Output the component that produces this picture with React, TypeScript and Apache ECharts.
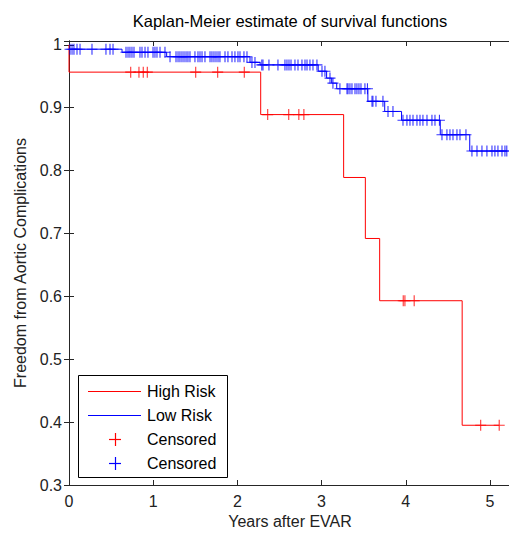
import React, { useEffect, useRef } from "react";
import * as echarts from "echarts";

// Kaplan-Meier step points: [time (years), survival after that time]
const highRiskSteps: [number, number][] = [
  [0, 1], [0, 0.9565], [2.277, 0.889], [3.262, 0.789], [3.52, 0.692],
  [3.69, 0.593], [4.67, 0.395], [5.11, 0.395],
];
const lowRiskSteps: [number, number][] = [
  [0, 0.993], [0.63, 0.988], [1.16, 0.981], [2.15, 0.972], [2.27, 0.968],
  [2.96, 0.958], [3.06, 0.947], [3.12, 0.939], [3.18, 0.93], [3.55, 0.91],
  [3.75, 0.894], [3.95, 0.88], [4.41, 0.857], [4.76, 0.831], [5.2, 0.831],
];
// Censoring times (years)
const highRiskCensored: number[] = [
  0.733, 0.831, 0.882, 0.93, 1.505, 1.766, 2.082, 2.36, 2.61, 2.73, 2.79,
  3.97, 3.99, 4.1, 4.89, 5.11,
];
const lowRiskCensored: number[] = [
  0.012, 0.036, 0.059, 0.095, 0.131, 0.273, 0.439, 0.487, 0.523,
  0.677, 0.701, 0.724, 0.748, 0.772, 0.843, 0.867, 0.903, 0.938, 0.998, 1.021, 1.045, 1.081, 1.14,
  1.2, 1.271, 1.295, 1.318, 1.342, 1.366, 1.39, 1.413, 1.437, 1.496, 1.532, 1.556, 1.58, 1.615,
  1.675, 1.698, 1.722, 1.746, 1.77, 1.793, 1.853, 1.888, 1.936, 1.971, 2.007, 2.031, 2.078, 2.114,
  2.173, 2.209,
  2.29, 2.304, 2.375, 2.482, 2.565, 2.589, 2.613, 2.637, 2.684, 2.72, 2.767, 2.803, 2.827, 2.862, 2.898, 2.945,
  3.005, 3.04, 3.1, 3.135,
  3.218, 3.302, 3.314, 3.337, 3.361, 3.397, 3.42, 3.444, 3.468, 3.515, 3.545,
  3.599, 3.61, 3.646, 3.729,
  3.789, 3.848,
  3.967, 4.014, 4.05, 4.086, 4.133, 4.169, 4.204, 4.252, 4.311, 4.347, 4.4,
  4.43, 4.489, 4.525, 4.561, 4.608, 4.644, 4.715,
  4.786, 4.846, 4.905, 4.964, 5.024, 5.059, 5.095, 5.143, 5.178, 5.2,
];
const seriesNames = ["High Risk", "Low Risk", "Censored", "Censored"];
const titleText = "Kaplan-Meier estimate of survival functions";
const xName = "Years after EVAR";
const yName = "Freedom from Aortic Complications";

const RED = "#ff0000";
const BLUE = "#0000ff";
const AXIS = "#262626";
const FONT = "'Liberation Sans', Arial, sans-serif";
const PLUS = "path://M4.5,0H5.5V4.5H10V5.5H5.5V10H4.5V5.5H0V4.5H4.5Z";

function survAt(steps: [number, number][], t: number): number {
  let s = steps[0][1];
  for (const [ti, si] of steps) {
    if (ti <= t + 1e-9) s = si;
  }
  return s;
}

export default function App() {
  const ref = useRef<HTMLDivElement>(null);
  useEffect(() => {
    if (!ref.current) return;
    const chart = echarts.init(ref.current, undefined, { renderer: "svg" });
    const axisCommon = {
      axisLine: { show: true, lineStyle: { color: AXIS, width: 1 } },
      axisTick: { show: true, inside: true, length: 5, lineStyle: { color: AXIS } },
      splitLine: { show: false },
    };
    const legendX = 78, legendY = 375, rowH = 24;
    const legendEls: any[] = [
      { type: "rect", id: "lg-box", z: 100, shape: { x: legendX + 0.5, y: legendY + 0.5, width: 149, height: 102 }, style: { fill: "#ffffff", stroke: "#000000", lineWidth: 1 } },
    ];
    const colors = [RED, BLUE, RED, BLUE];
    seriesNames.forEach((name, i) => {
      const cy = legendY + 16 + i * rowH;
      if (i < 2) {
        legendEls.push({ type: "polyline", id: `lg-l${i}`, z: 101, shape: { points: [[88, cy + 0.5], [141, cy + 0.5]] }, style: { stroke: colors[i], fill: null, lineWidth: 1.2 } });
      } else {
        legendEls.push({ type: "polyline", id: `lg-h${i}`, z: 101, shape: { points: [[109, cy + 0.5], [121, cy + 0.5]] }, style: { stroke: colors[i], fill: null, lineWidth: 1.2 } });
        legendEls.push({ type: "polyline", id: `lg-v${i}`, z: 101, shape: { points: [[115.5, cy - 6], [115.5, cy + 7]] }, style: { stroke: colors[i], fill: null, lineWidth: 1.2 } });
      }
      legendEls.push({ type: "text", id: `lg-t${i}`, z: 101, x: 147, y: cy, style: { text: name, fill: "#000", font: `16px ${FONT}`, textVerticalAlign: "middle", textAlign: "left" } });
    });

    chart.setOption({
      animation: false,
      backgroundColor: "#fff",
      grid: { left: 69, top: 41, width: 442, height: 444, containLabel: false, outerBoundsMode: "none" },
      xAxis: [
        {
          type: "value", min: 0, max: 5.25, interval: 1, position: "bottom",
          ...axisCommon,
          axisLabel: { color: "#222", fontSize: 16, fontFamily: FONT, margin: 8, showMaxLabel: false },
          name: xName, nameLocation: "middle", nameGap: 28,
          nameTextStyle: { color: "#222", fontSize: 16, fontFamily: FONT },
        },
        {
          type: "value", min: 0, max: 5.25, interval: 1, position: "top",
          ...axisCommon, axisLabel: { show: false },
        },
      ],
      yAxis: [
        {
          type: "value", min: 0.3, max: 1.006, interval: 0.1, position: "left",
          ...axisCommon,
          axisLabel: { color: "#222", fontSize: 16, fontFamily: FONT, margin: 7, showMaxLabel: false, formatter: (v: number) => String(Math.round(v * 10) / 10) },
          name: yName, nameLocation: "middle", nameGap: 41,
          nameTextStyle: { color: "#222", fontSize: 16, fontFamily: FONT },
        },
        {
          type: "value", min: 0.3, max: 1.006, interval: 0.1, position: "right",
          ...axisCommon, axisLabel: { show: false },
        },
      ],
      graphic: [
        { type: "text", id: "title", x: 290, y: 21, style: { text: titleText, fill: "#000", font: `16.5px ${FONT}`, textAlign: "center", textVerticalAlign: "middle" } },
        ...legendEls,
      ],
      series: [
        {
          name: seriesNames[0], type: "line", step: "end", data: highRiskSteps,
          showSymbol: false, lineStyle: { color: RED, width: 1 }, itemStyle: { color: RED }, z: 2,
        },
        {
          name: seriesNames[1], type: "line", step: "end", data: lowRiskSteps,
          showSymbol: false, lineStyle: { color: BLUE, width: 1 }, itemStyle: { color: BLUE }, z: 3,
        },
        {
          name: seriesNames[2], type: "scatter", symbol: PLUS, symbolSize: 11,
          data: highRiskCensored.map((t) => [t, survAt(highRiskSteps, t)]),
          itemStyle: { color: RED }, z: 2, clip: false,
        },
        {
          name: seriesNames[3], type: "scatter", symbol: PLUS, symbolSize: 11,
          data: lowRiskCensored.map((t) => [t, survAt(lowRiskSteps, t)]),
          itemStyle: { color: BLUE }, z: 3, clip: false,
        },
      ],
    });
    return () => chart.dispose();
  }, []);
  return <div ref={ref} style={{ position: "absolute", left: 0, top: 0, width: 509, height: 534 }} />;
}
